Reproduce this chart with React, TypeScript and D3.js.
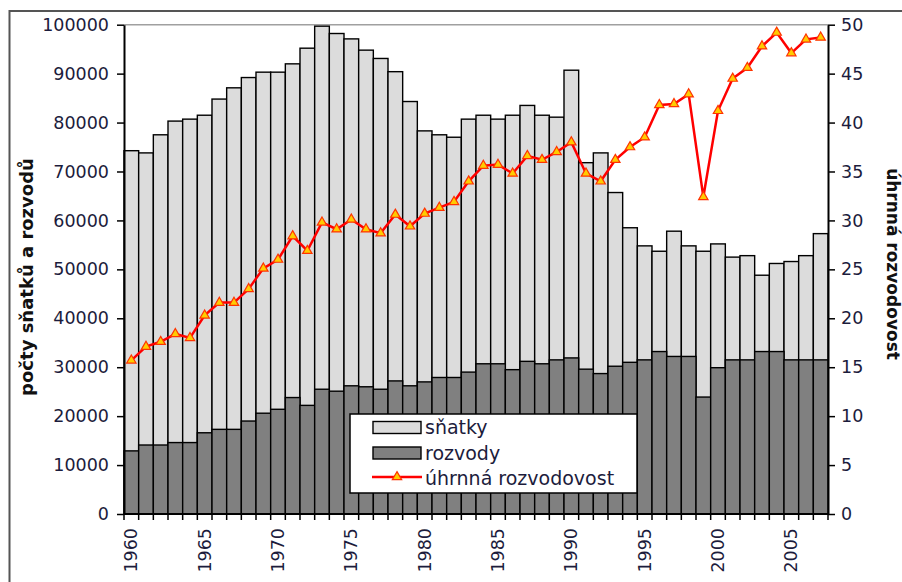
import React, { useEffect, useRef } from 'react';
import * as d3 from 'd3';

// years 1960-2007
const years: number[] = d3.range(1960, 2008);

// počty sňatků (marriages)
const snatky: number[] = [
  74250, 73800, 77500, 80300, 80700, 81500, 84800, 87100, 89200, 90300,
  90300, 92000, 95200, 99700, 98200, 97100, 94800, 93100, 90400, 84300,
  78300, 77500, 77000, 80700, 81500, 80700, 81500, 83500, 81500, 81100,
  90700, 71800, 73800, 65700, 58500, 54800, 53700, 57800, 54800, 53700,
  55200, 52500, 52800, 48800, 51200, 51600, 52800, 57300,
];

// počty rozvodů (divorces)
const rozvody: number[] = [
  12900, 14100, 14100, 14600, 14600, 16600, 17300, 17300, 19000, 20600,
  21400, 23800, 22200, 25500, 25100, 26200, 26000, 25500, 27200, 26200,
  27000, 27900, 27900, 29000, 30700, 30700, 29500, 31200, 30700, 31500,
  31900, 29600, 28700, 30200, 31000, 31500, 33200, 32200, 32200, 23900,
  29900, 31500, 31500, 33200, 33200, 31500, 31500, 31500,
];

// úhrnná rozvodovost (total divorce rate, %)
const rozvodovost: number[] = [
  15.7, 17.1, 17.6, 18.4, 18.0, 20.3, 21.6, 21.6, 23.0, 25.1,
  26.0, 28.4, 26.9, 29.8, 29.1, 30.1, 29.1, 28.7, 30.6, 29.4,
  30.7, 31.3, 31.9, 34.0, 35.6, 35.7, 34.8, 36.6, 36.2, 37.0,
  38.0, 34.8, 34.0, 36.2, 37.5, 38.5, 41.8, 41.9, 42.9, 32.4,
  41.2, 44.5, 45.6, 47.8, 49.2, 47.1, 48.5, 48.7,
];

const leftTicks: number[] = d3.range(0, 100001, 10000);
const rightTicks: number[] = d3.range(0, 51, 5);
const yearLabels: number[] = years.filter((y) => y % 5 === 0);

const legendItems = ['sňatky', 'rozvody', 'úhrnná rozvodovost'];

const FONT = '"DejaVu Sans", Verdana, sans-serif';

function App() {
  const ref = useRef<SVGSVGElement>(null);

  useEffect(() => {
    const svg = d3.select(ref.current);
    svg.selectAll('*').remove();

    const plot = { left: 124, right: 828, top: 24.7, bottom: 514 };

    const x = d3
      .scaleBand<number>()
      .domain(years)
      .range([plot.left, plot.right])
      .padding(0);
    const yL = d3.scaleLinear().domain([0, 100000]).range([plot.bottom, plot.top]);
    const yR = d3.scaleLinear().domain([0, 50]).range([plot.bottom, plot.top]);

    // outer frame
    svg
      .append('rect')
      .attr('x', 9.5)
      .attr('y', 11)
      .attr('width', 1200)
      .attr('height', 1000)
      .attr('fill', 'white')
      .attr('stroke', '#555')
      .attr('stroke-width', 2);

    // top border of plot area
    svg
      .append('line')
      .attr('x1', plot.left)
      .attr('x2', plot.right)
      .attr('y1', plot.top)
      .attr('y2', plot.top)
      .attr('stroke', '#a0a0a0')
      .attr('stroke-width', 1.5);

    // marriages bars
    svg
      .append('g')
      .selectAll('rect')
      .data(snatky)
      .join('rect')
      .attr('x', (d, i) => x(years[i])!)
      .attr('y', (d) => yL(d))
      .attr('width', x.bandwidth())
      .attr('height', (d) => plot.bottom - yL(d))
      .attr('fill', '#dcdcdc')
      .attr('stroke', '#000')
      .attr('stroke-width', 1.4);

    // divorces bars
    svg
      .append('g')
      .selectAll('rect')
      .data(rozvody)
      .join('rect')
      .attr('x', (d, i) => x(years[i])!)
      .attr('y', (d) => yL(d))
      .attr('width', x.bandwidth())
      .attr('height', (d) => plot.bottom - yL(d))
      .attr('fill', '#808080')
      .attr('stroke', '#000')
      .attr('stroke-width', 1.4);

    // left axis
    const axL = svg
      .append('g')
      .attr('transform', `translate(${plot.left},0)`)
      .call(
        d3
          .axisLeft(yL)
          .tickValues(leftTicks)
          .tickFormat(d3.format('d'))
          .tickSize(7)
          .tickPadding(8)
          .tickSizeOuter(0)
      );
    // right axis
    const axR = svg
      .append('g')
      .attr('transform', `translate(${plot.right},0)`)
      .call(
        d3
          .axisRight(yR)
          .tickValues(rightTicks)
          .tickFormat(d3.format('d'))
          .tickSize(7)
          .tickPadding(6)
          .tickSizeOuter(0)
      );

    [axL, axR].forEach((ax) => {
      ax.select('.domain').attr('stroke', '#000').attr('stroke-width', 2);
      ax.selectAll('.tick line').attr('stroke', '#000').attr('stroke-width', 1.5);
      ax.selectAll('.tick text')
        .attr('font-family', FONT)
        .attr('font-size', 17.5)
        .attr('fill', '#1c1c3c');
    });

    // x axis
    const axX = svg.append('g');
    axX
      .append('line')
      .attr('x1', plot.left)
      .attr('x2', plot.right)
      .attr('y1', plot.bottom)
      .attr('y2', plot.bottom)
      .attr('stroke', '#000')
      .attr('stroke-width', 2);
    axX
      .selectAll('line.tk')
      .data(d3.range(years.length + 1))
      .join('line')
      .attr('class', 'tk')
      .attr('x1', (i) => plot.left + i * x.bandwidth())
      .attr('x2', (i) => plot.left + i * x.bandwidth())
      .attr('y1', plot.bottom)
      .attr('y2', plot.bottom + 6)
      .attr('stroke', '#000')
      .attr('stroke-width', 1.5);
    axX
      .selectAll('text')
      .data(yearLabels)
      .join('text')
      .attr('transform', (d) => `translate(${x(d)! + x.bandwidth() / 2},528) rotate(-90)`)
      .attr('text-anchor', 'end')
      .attr('dy', '0.35em')
      .attr('font-family', FONT)
      .attr('font-size', 17.5)
      .attr('fill', '#1c1c3c')
      .text((d) => d);

    // rate line
    const line = d3
      .line<number>()
      .x((d, i) => x(years[i])! + x.bandwidth() / 2)
      .y((d) => yR(d));
    svg
      .append('path')
      .datum(rozvodovost)
      .attr('fill', 'none')
      .attr('stroke', '#ff0000')
      .attr('stroke-width', 2.5)
      .attr('d', line);

    const tri = d3.symbol().type(d3.symbolTriangle).size(38);
    svg
      .append('g')
      .selectAll('path')
      .data(rozvodovost)
      .join('path')
      .attr('transform', (d, i) => `translate(${x(years[i])! + x.bandwidth() / 2},${yR(d)})`)
      .attr('d', tri()!)
      .attr('fill', '#ffcc00')
      .attr('stroke', '#ff3300')
      .attr('stroke-width', 1.2);

    // axis titles
    svg
      .append('text')
      .attr('transform', 'translate(27,277) rotate(-90)')
      .attr('text-anchor', 'middle')
      .attr('dy', '0.35em')
      .attr('font-family', FONT)
      .attr('font-weight', 'bold')
      .attr('font-size', 18)
      .attr('fill', '#111')
      .text('počty sňatků a rozvodů');
    svg
      .append('text')
      .attr('transform', 'translate(893,264) rotate(90)')
      .attr('text-anchor', 'middle')
      .attr('dy', '0.35em')
      .attr('font-family', FONT)
      .attr('font-weight', 'bold')
      .attr('font-size', 17)
      .attr('fill', '#111')
      .text('úhrnná rozvodovost');

    // legend
    const lg = svg.append('g');
    lg.append('rect')
      .attr('x', 350)
      .attr('y', 414)
      .attr('width', 287)
      .attr('height', 79)
      .attr('fill', 'white')
      .attr('stroke', '#000')
      .attr('stroke-width', 1.5);
    const rowY = [427.5, 453, 478];
    const fills = ['#dcdcdc', '#808080'];
    fills.forEach((f, i) => {
      lg.append('rect')
        .attr('x', 373)
        .attr('y', rowY[i] - 6)
        .attr('width', 48)
        .attr('height', 12)
        .attr('fill', f)
        .attr('stroke', '#000')
        .attr('stroke-width', 1.4);
    });
    lg.append('line')
      .attr('x1', 372)
      .attr('x2', 422)
      .attr('y1', rowY[2] - 1)
      .attr('y2', rowY[2] - 1)
      .attr('stroke', '#ff0000')
      .attr('stroke-width', 2.5);
    lg.append('path')
      .attr('transform', `translate(397,${rowY[2] - 1})`)
      .attr('d', tri()!)
      .attr('fill', '#ffcc00')
      .attr('stroke', '#ff3300')
      .attr('stroke-width', 1.2);
    lg.selectAll('text.lab')
      .data(legendItems)
      .join('text')
      .attr('class', 'lab')
      .attr('x', 425)
      .attr('y', (d, i) => rowY[i])
      .attr('dy', '0.35em')
      .attr('font-family', FONT)
      .attr('font-size', 19)
      .attr('fill', '#1c1c3c')
      .text((d) => d);
  }, []);

  return (
    <svg
      ref={ref}
      width={902}
      height={582}
      style={{ position: 'absolute', left: 0, top: 0, background: 'white' }}
    />
  );
}

export default App;
